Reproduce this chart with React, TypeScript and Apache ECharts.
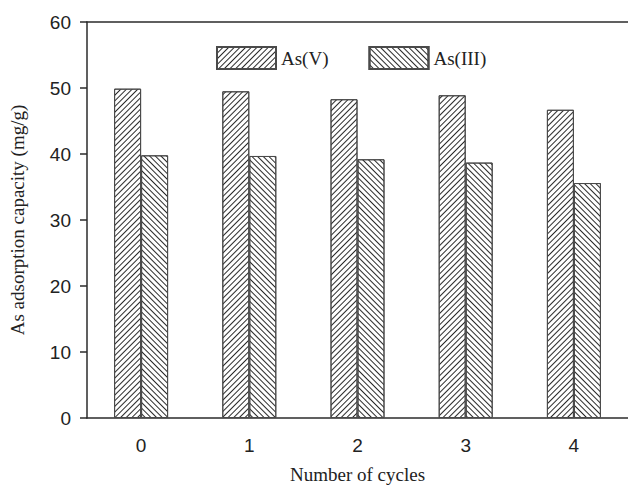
import React, { useEffect, useRef } from "react";
import * as echarts from "echarts";

const cycles = ["0", "1", "2", "3", "4"];
const asV = [49.9, 49.5, 48.3, 48.9, 46.7];
const asIII = [39.8, 39.7, 39.2, 38.7, 35.6];
const yTicks = { min: 0, max: 60, interval: 10 };

const SERIF = "'Liberation Serif', 'Times New Roman', serif";
const SANS = "'Liberation Sans', Arial, sans-serif";
const INK = "#2b2b2b";

// diagonal line hatching for the bar fills
function hatch(rotation: number) {
  return {
    symbol: "rect",
    symbolSize: 1,
    color: "#2a2a2a",
    backgroundColor: "#fff",
    dashArrayX: [1, 0],
    dashArrayY: [0.9, 2.7],
    rotation,
  };
}

export default function App() {
  const ref = useRef<HTMLDivElement>(null);

  useEffect(() => {
    if (!ref.current) return;
    const chart = echarts.init(ref.current, null, { renderer: "svg" });
    chart.setOption({
      animation: false,
      backgroundColor: "#fff",
      aria: { enabled: true, decal: { show: true } },
      grid: { left: 84, top: 22, width: 545, height: 401, containLabel: false },
      legend: {
        left: 211,
        top: 41,
        itemWidth: 59,
        itemHeight: 22,
        itemGap: 40,
        icon: "rect",
        textStyle: { fontFamily: SERIF, fontSize: 19, color: "#222" },
        data: ["As(V)", "As(III)"],
      },
      xAxis: [
        {
          type: "category",
          data: cycles,
          boundaryGap: true,
          position: "bottom",
          name: "Number of cycles",
          nameLocation: "middle",
          nameGap: 47,
          nameTextStyle: { fontFamily: SERIF, fontSize: 19, color: "#222" },
          axisLine: { lineStyle: { color: INK, width: 1.5 } },
          axisTick: { alignWithLabel: true, length: 8, lineStyle: { color: INK, width: 1.5 } },
          axisLabel: { fontFamily: SANS, fontSize: 19, color: "#222", margin: 18 },
        },
        {
          type: "category",
          data: cycles,
          position: "top",
          axisLine: { lineStyle: { color: INK, width: 1.5 } },
          axisTick: { show: false },
          axisLabel: { show: false },
        },
      ],
      yAxis: {
        type: "value",
        min: yTicks.min,
        max: yTicks.max,
        interval: yTicks.interval,
        name: "As adsorption capacity (mg/g)",
        nameLocation: "middle",
        nameGap: 60,
        nameTextStyle: { fontFamily: SERIF, fontSize: 19, color: "#222" },
        axisLine: { show: true, lineStyle: { color: INK, width: 1.5 } },
        axisTick: { show: true, length: 7, lineStyle: { color: INK, width: 1.5 } },
        axisLabel: { fontFamily: SANS, fontSize: 19, color: "#222", margin: 16 },
        splitLine: { show: false },
      },
      series: [
        {
          name: "As(V)",
          type: "bar",
          data: asV,
          barWidth: 27,
          barGap: "0%",
          itemStyle: {
            color: "#fff",
            borderColor: "#4a4a4a",
            borderWidth: 1,
            decal: hatch(-Math.PI / 4),
          },
        },
        {
          name: "As(III)",
          type: "bar",
          data: asIII,
          barWidth: 27,
          barGap: "0%",
          itemStyle: {
            color: "#fff",
            borderColor: "#4a4a4a",
            borderWidth: 1,
            decal: hatch(Math.PI / 4),
          },
        },
      ],
    });
    return () => chart.dispose();
  }, []);

  return (
    <div
      ref={ref}
      style={{ position: "fixed", left: 0, top: 0, width: 628, height: 489 }}
    />
  );
}
